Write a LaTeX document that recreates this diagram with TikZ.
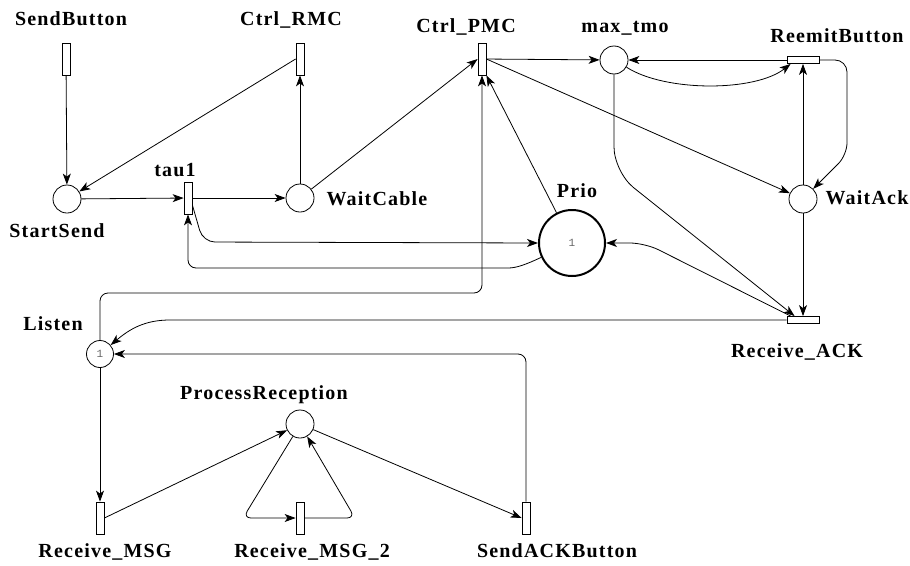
\documentclass[tikz,border=0pt]{standalone}
\usepackage{fontspec}
\setmainfont{Liberation Serif}
\setmonofont{Liberation Mono}
\newfontfamily\lblfont{Liberation Serif}[LetterSpace=6]
\usetikzlibrary{arrows.meta}

\begin{document}
\begin{tikzpicture}[x=1pt, y=-1pt,
    place/.style={draw, circle, inner sep=0pt, minimum size=28pt, line width=0.8pt,
        fill=white, font=\fontsize{11}{11}\selectfont\ttfamily, text=black!60},
    vtrans/.style={draw, rectangle, inner sep=0pt, minimum width=8pt, minimum height=32pt,
        line width=0.8pt, fill=white},
    htrans/.style={draw, rectangle, inner sep=0pt, minimum width=32pt, minimum height=7pt,
        line width=0.8pt, fill=white},
    lbl/.style={anchor=base, inner sep=0pt, font=\lblfont\fontsize{20}{20}\selectfont\bfseries},
    flow/.style={-{Stealth[length=11pt, width=8pt, inset=3pt]}, line width=0.8pt}]
    \useasboundingbox (0, 0) rectangle (910, 565);
    % transitions
    \node [vtrans] (sendbtn) at (66, 59) {};
    \node [vtrans] (ctrlrmc) at (300, 59) {};
    \node [vtrans] (ctrlpmc) at (482, 59) {};
    \node [htrans] (reemit) at (803, 60) {};
    \node [vtrans] (tau) at (188, 198) {};
    \node [htrans] (recack) at (803, 320) {};
    \node [vtrans] (recmsg) at (100, 518) {};
    \node [vtrans] (recmsgb) at (300, 518) {};
    \node [vtrans] (sendack) at (526, 518) {};
    % places
    \node [place] (startsend) at (67, 199) {};
    \node [place] (waitcable) at (300, 198) {};
    \node [place] (maxtmo) at (614, 60) {};
    \node [place] (waitack) at (803, 199) {};
    \node [place, line width=2pt, minimum size=66pt] (prio) at (572, 243) {1};
    \node [place, minimum size=27pt] (listen) at (100, 354) {1};
    \node [place] (procrec) at (300, 424) {};
    % labels
    \node [lbl] (l-sendbtn) at (71, 25) {SendButton};
    \node [lbl] (l-ctrlrmc) at (291, 25) {Ctrl\_RMC};
    \node [lbl] (l-ctrlpmc) at (466, 32) {Ctrl\_PMC};
    \node [lbl] (l-maxtmo) at (625, 32) {max\_tmo};
    \node [lbl] (l-reemit) at (837, 42) {ReemitButton};
    \node [lbl] (l-tau) at (175, 176) {tau1};
    \node [lbl] (l-waitcable) at (377, 205) {WaitCable};
    \node [lbl] (l-startsend) at (57, 237) {StartSend};
    \node [lbl] (l-prio) at (577, 197) {Prio};
    \node [lbl] (l-waitack) at (867, 204) {WaitAck};
    \node [lbl] (l-recack) at (797, 357) {Receive\_ACK};
    \node [lbl] (l-listen) at (53, 330) {Listen};
    \node [lbl] (l-procrec) at (264, 399) {ProcessReception};
    \node [lbl] (l-recmsg) at (105, 557) {Receive\_MSG};
    \node [lbl] (l-recmsgb) at (312, 557) {Receive\_MSG\_2};
    \node [lbl] (l-sendack) at (557, 557) {SendACKButton};
    \coordinate (cab) at (300, 293);
    % sending side
    \draw [flow] (sendbtn) -- (startsend);
    \draw [flow] (ctrlrmc.west) -- (startsend);
    \draw [flow] (startsend) -- (tau);
    \draw [flow] (tau) -- (waitcable);
    \draw [flow] (waitcable) -- (ctrlrmc);
    \draw [flow] (waitcable) -- (ctrlpmc.west);
    \draw [flow] (ctrlpmc) -- (maxtmo);
    \draw [flow] (ctrlpmc.east) -- (waitack);
    \draw [flow] (prio) -- (ctrlpmc.south east);
    \draw [flow, rounded corners=8pt] (listen.north) |- (cab) -| (ctrlpmc.south);
    \draw [flow, rounded corners=12pt] (tau.-58) -- (203, 242) -- (prio.west);
    \draw [flow, rounded corners=8pt] (prio.205) to[out=205, in=0] (500, 268) -| (tau.south);
    % timeout and ack
    \draw [flow] (maxtmo.-30) .. controls (665, 92) and (755, 92) .. ([xshift=4pt]reemit.south west);
    \draw [flow] (reemit) -- (maxtmo);
    \draw [flow, rounded corners=12pt] (reemit.east) -- (847, 60) -- (847, 155) -- (waitack.45);
    \draw [flow] (waitack) -- (reemit);
    \draw [flow] (waitack) -- (recack);
    \draw [flow, rounded corners=25pt] (maxtmo.south) -- (614, 172) -- ([xshift=8pt]recack.north west);
    \draw [flow, rounded corners=15pt] ([xshift=4pt]recack.north west) -- (645, 243) -- (prio.east);
    \draw [flow] (recack.west) -- (170, 320) to[out=180, in=40] (listen.40);
    % receiving side
    \draw [flow] (listen) -- (recmsg);
    \draw [flow] (recmsg.east) -- (procrec);
    \draw [flow, rounded corners=8pt] (procrec.240) -- (243, 518) -- (recmsgb.west);
    \draw [flow, rounded corners=8pt] (recmsgb.east) -- (355, 518) -- (procrec.-60);
    \draw [flow] (procrec) -- (sendack.west);
    \draw [flow, rounded corners=8pt] (sendack.north) |- (listen.east);
\end{tikzpicture}
\end{document}
